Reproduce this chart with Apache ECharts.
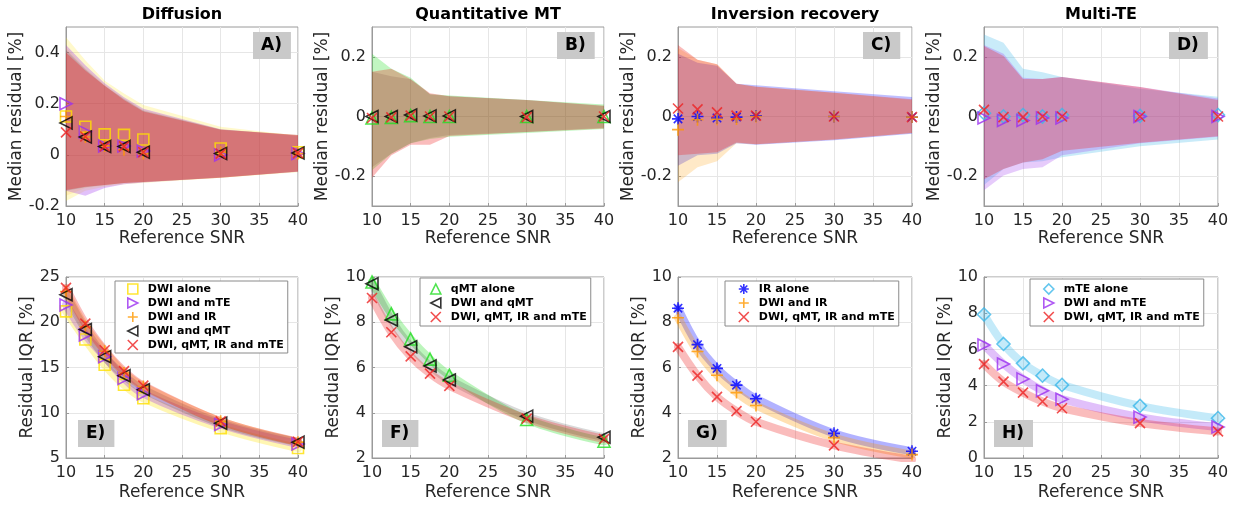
<!DOCTYPE html>
<html>
<head>
<meta charset="utf-8">
<script src="https://cdn.jsdelivr.net/npm/echarts@6/dist/echarts.min.js"></script>
<style>html,body{margin:0;padding:0;background:#fff}#c{width:1241px;height:506px}</style>
</head>
<body>
<div id="c"></div>
<script>
// ---------------- DATA ----------------
const snr = [10, 12.5, 15, 17.5, 20, 30, 40];

// Panel A (Diffusion) median residual [%]
const A_dwi_med     = [0.15, 0.11, 0.08, 0.078, 0.06, 0.025, 0.01];
const A_dwiMte_med  = [0.20, 0.09, 0.035, 0.035, 0.015, 0.0, 0.005];
const A_dwiIr_med   = [0.15, 0.07, 0.035, 0.02, 0.005, 0.01, 0.005];
const A_dwiQmt_med  = [0.125, 0.07, 0.033, 0.033, 0.01, 0.005, 0.007];
const A_all_med     = [0.088, 0.072, 0.033, 0.033, 0.01, 0.005, 0.007];
// Panel A spread (lower / upper)
const A_dwi_lo    = [-0.18, -0.14, -0.125, -0.115, -0.11, -0.09, -0.068];
const A_dwi_hi    = [0.46, 0.37, 0.29, 0.24, 0.195, 0.11, 0.075];
const A_dwiMte_lo = [-0.14, -0.16, -0.13, -0.115, -0.108, -0.088, -0.066];
const A_dwiMte_hi = [0.43, 0.35, 0.28, 0.225, 0.18, 0.1, 0.075];
const A_dwiIr_lo  = [-0.16, -0.13, -0.12, -0.11, -0.106, -0.09, -0.066];
const A_dwiIr_hi  = [0.42, 0.34, 0.275, 0.22, 0.175, 0.1, 0.078];
const A_dwiQmt_lo = [-0.14, -0.127, -0.118, -0.11, -0.106, -0.09, -0.065];
const A_dwiQmt_hi = [0.41, 0.335, 0.27, 0.218, 0.172, 0.099, 0.078];
const A_all_lo    = [-0.137, -0.125, -0.118, -0.11, -0.106, -0.09, -0.065];
const A_all_hi    = [0.40, 0.33, 0.27, 0.215, 0.17, 0.098, 0.078];

// Panel B (Quantitative MT)
const B_qmt_med    = [-0.005, -0.003, 0.003, 0.0, 0.0, 0.0, 0.0];
const B_dwiQmt_med = [0.0, 0.0, 0.005, 0.002, 0.002, 0.0, 0.0];
const B_all_med    = [-0.005, -0.003, 0.003, 0.0, 0.0, -0.002, 0.0];
const B_qmt_lo    = [-0.18, -0.125, -0.09, -0.075, -0.068, -0.055, -0.042];
const B_qmt_hi    = [0.21, 0.16, 0.13, 0.075, 0.07, 0.055, 0.04];
const B_dwiQmt_lo = [-0.17, -0.125, -0.09, -0.072, -0.062, -0.052, -0.038];
const B_dwiQmt_hi = [0.15, 0.135, 0.125, 0.075, 0.068, 0.055, 0.035];
const B_all_lo    = [-0.205, -0.13, -0.095, -0.095, -0.065, -0.052, -0.04];
const B_all_hi    = [0.15, 0.16, 0.125, 0.078, 0.068, 0.055, 0.036];

// Panel C (Inversion recovery)
const C_ir_med    = [-0.008, 0.0, -0.005, -0.002, 0.002, 0.0, -0.002];
const C_dwiIr_med = [-0.044, -0.011, -0.009, -0.008, 0.0, 0.0, -0.002];
const C_all_med   = [0.027, 0.024, 0.014, 0.003, 0.003, 0.0, -0.002];
const C_ir_lo    = [-0.165, -0.13, -0.125, -0.09, -0.095, -0.08, -0.058];
const C_ir_hi    = [0.21, 0.18, 0.17, 0.11, 0.105, 0.085, 0.065];
const C_dwiIr_lo = [-0.22, -0.17, -0.15, -0.09, -0.093, -0.077, -0.055];
const C_dwiIr_hi = [0.23, 0.19, 0.175, 0.11, 0.1, 0.08, 0.055];
const C_all_lo   = [-0.13, -0.125, -0.12, -0.087, -0.093, -0.077, -0.055];
const C_all_hi   = [0.24, 0.19, 0.175, 0.11, 0.1, 0.08, 0.058];

// Panel D (Multi-TE)
const D_mte_med    = [0.011, 0.0, 0.005, 0.0, 0.005, 0.002, 0.005];
const D_dwiMte_med = [-0.005, -0.013, -0.013, -0.005, -0.005, 0.0, 0.0];
const D_all_med    = [0.022, -0.002, -0.002, 0.0, 0.0, 0.0, 0.0];
const D_mte_lo    = [-0.23, -0.176, -0.154, -0.15, -0.137, -0.1, -0.077];
const D_mte_hi    = [0.275, 0.247, 0.16, 0.148, 0.132, 0.093, 0.066];
const D_dwiMte_lo = [-0.247, -0.198, -0.176, -0.17, -0.13, -0.09, -0.068];
const D_dwiMte_hi = [0.24, 0.21, 0.13, 0.126, 0.132, 0.099, 0.06];
const D_all_lo    = [-0.21, -0.176, -0.154, -0.143, -0.115, -0.088, -0.066];
const D_all_hi    = [0.236, 0.203, 0.126, 0.126, 0.132, 0.099, 0.055];

// Panel E-H residual IQR [%]
const E_dwi    = [21.2, 18.1, 15.3, 13.1, 11.6, 8.3, 6.1];
const E_dwiMte = [21.9, 18.6, 16.2, 13.8, 12.1, 8.7, 6.55];
const E_dwiIr  = [23.4, 19.5, 16.8, 14.4, 12.9, 9.05, 6.75];
const E_dwiQmt = [23.05, 19.2, 16.2, 14.1, 12.55, 8.85, 6.75];
const E_all    = [23.8, 19.85, 16.9, 14.6, 13.0, 9.05, 6.8];

const F_qmt    = [9.78, 8.37, 7.26, 6.37, 5.66, 3.7, 2.74];
const F_dwiQmt = [9.7, 8.1, 6.92, 6.07, 5.45, 3.85, 2.92];
const F_all    = [9.07, 7.56, 6.49, 5.73, 5.19, 3.74, 2.84];

const G_ir    = [8.62, 7.01, 5.96, 5.22, 4.62, 3.09, 2.3];
const G_dwiIr = [8.2, 6.71, 5.66, 4.89, 4.32, 2.9, 2.15];
const G_all   = [6.91, 5.64, 4.7, 4.07, 3.6, 2.56, 1.93];

const H_mte    = [7.93, 6.3, 5.23, 4.55, 4.04, 2.88, 2.2];
const H_dwiMte = [6.24, 5.19, 4.37, 3.72, 3.25, 2.26, 1.71];
const H_all    = [5.19, 4.22, 3.61, 3.12, 2.75, 1.93, 1.47];

const titles = ['Diffusion', 'Quantitative MT', 'Inversion recovery', 'Multi-TE'];
const letters = ['A)', 'B)', 'C)', 'D)', 'E)', 'F)', 'G)', 'H)'];
const yTicksA = [-0.2, 0, 0.2, 0.4];
const yTicksBCD = [-0.2, 0, 0.2];

// ---------------- STYLE ----------------
const KIND = {
  dwi:    {name: 'DWI alone',            color: '#ffe000', symbol: 'path://M0,0L10,0L10,10L0,10Z', size: 11},
  dwiMte: {name: 'DWI and mTE',          color: '#9b30f0', symbol: 'path://M0,0L10,5L0,10Z', size: 12},
  dwiIr:  {name: 'DWI and IR',           color: '#ff9900', symbol: 'path://M5,0L5,10M0,5L10,5', size: 12},
  dwiQmt: {name: 'DWI and qMT',          color: '#000000', symbol: 'path://M10,0L0,5L10,10Z', size: 12},
  all:    {name: 'DWI, qMT, IR and mTE', color: '#ee2222', symbol: 'path://M0,0L10,10M10,0L0,10', size: 10},
  qmt:    {name: 'qMT alone',            color: '#22dd22', symbol: 'path://M5,0L10,10L0,10Z', size: 12},
  ir:     {name: 'IR alone',             color: '#0000ff', symbol: 'path://M5,0L5,10M0,5L10,5M1.5,1.5L8.5,8.5M8.5,1.5L1.5,8.5', size: 12},
  mte:    {name: 'mTE alone',            color: '#3cb8ea', symbol: 'path://M5,0L10,5L5,10L0,5Z', size: 13}
};
// band opacity per panel group
const bandAlphaA = {dwi: 0.2, dwiMte: 0.3, dwiIr: 0.12, dwiQmt: 0.12, all: 0.35};
const bandAlpha = {dwiMte: 0.25, dwiIr: 0.22, dwiQmt: 0.12, all: 0.3, qmt: 0.28, ir: 0.25, mte: 0.28};

const pair = (xs, ys) => xs.map((x, i) => [x, ys[i]]);
function hexA(hex, a) {
  const n = parseInt(hex.slice(1), 16);
  return 'rgba(' + (n >> 16 & 255) + ',' + (n >> 8 & 255) + ',' + (n & 255) + ',' + a + ')';
}

const series = [];
// spread band: one polygon through the upper values and back along the lower values
function band(g, kind, lo, hi) {
  const pts = snr.map((x, i) => [x, lo[i], hi[i]]);
  const a = g === 0 ? bandAlphaA[kind] : bandAlpha[kind];
  const fill = hexA(KIND[kind].color, a);
  series.push({
    type: 'custom', name: '_band' + g + kind, xAxisIndex: g, yAxisIndex: g, silent: true, z: 1,
    data: pts, encode: {x: 0, y: [1, 2]},
    renderItem: function (params, api) {
      if (params.dataIndex !== 0) return null;
      const upper = pts.map(p => api.coord([p[0], p[2]]));
      const lower = pts.map(p => api.coord([p[0], p[1]])).reverse();
      return {type: 'polygon', shape: {points: upper.concat(lower)}, style: {fill: fill, stroke: null}};
    }
  });
}
function fitLine(g, kind, ys) {
  series.push({
    type: 'line', name: '_l' + g + kind, xAxisIndex: g, yAxisIndex: g, data: pair(snr, ys),
    symbol: 'none', smooth: 0.35, silent: true, z: 1,
    lineStyle: {color: hexA(KIND[kind].color, kind === 'dwiQmt' ? 0.15 : 0.3), width: 8, cap: 'round', join: 'round'}
  });
}
function marks(g, kind, ys) {
  const k = KIND[kind];
  series.push({
    type: 'scatter', name: k.name, xAxisIndex: g, yAxisIndex: g, data: pair(snr, ys),
    symbol: k.symbol, symbolSize: k.size, symbolKeepAspect: true, z: 3,
    itemStyle: {color: 'rgba(0,0,0,0)', borderColor: k.color, borderWidth: 1.6}
  });
}

// top row
band(0, 'dwi', A_dwi_lo, A_dwi_hi);
band(0, 'dwiMte', A_dwiMte_lo, A_dwiMte_hi);
band(0, 'dwiIr', A_dwiIr_lo, A_dwiIr_hi);
band(0, 'dwiQmt', A_dwiQmt_lo, A_dwiQmt_hi);
band(0, 'all', A_all_lo, A_all_hi);
marks(0, 'dwi', A_dwi_med); marks(0, 'dwiMte', A_dwiMte_med); marks(0, 'dwiIr', A_dwiIr_med);
marks(0, 'dwiQmt', A_dwiQmt_med); marks(0, 'all', A_all_med);

band(1, 'qmt', B_qmt_lo, B_qmt_hi);
band(1, 'dwiQmt', B_dwiQmt_lo, B_dwiQmt_hi);
band(1, 'all', B_all_lo, B_all_hi);
marks(1, 'qmt', B_qmt_med); marks(1, 'dwiQmt', B_dwiQmt_med); marks(1, 'all', B_all_med);

band(2, 'ir', C_ir_lo, C_ir_hi);
band(2, 'dwiIr', C_dwiIr_lo, C_dwiIr_hi);
band(2, 'all', C_all_lo, C_all_hi);
marks(2, 'ir', C_ir_med); marks(2, 'dwiIr', C_dwiIr_med); marks(2, 'all', C_all_med);

band(3, 'mte', D_mte_lo, D_mte_hi);
band(3, 'dwiMte', D_dwiMte_lo, D_dwiMte_hi);
band(3, 'all', D_all_lo, D_all_hi);
marks(3, 'mte', D_mte_med); marks(3, 'dwiMte', D_dwiMte_med); marks(3, 'all', D_all_med);

// bottom row
fitLine(4, 'dwi', E_dwi); fitLine(4, 'dwiMte', E_dwiMte); fitLine(4, 'dwiIr', E_dwiIr);
fitLine(4, 'dwiQmt', E_dwiQmt); fitLine(4, 'all', E_all);
marks(4, 'dwi', E_dwi); marks(4, 'dwiMte', E_dwiMte); marks(4, 'dwiIr', E_dwiIr);
marks(4, 'dwiQmt', E_dwiQmt); marks(4, 'all', E_all);

fitLine(5, 'qmt', F_qmt); fitLine(5, 'dwiQmt', F_dwiQmt); fitLine(5, 'all', F_all);
marks(5, 'qmt', F_qmt); marks(5, 'dwiQmt', F_dwiQmt); marks(5, 'all', F_all);

fitLine(6, 'ir', G_ir); fitLine(6, 'dwiIr', G_dwiIr); fitLine(6, 'all', G_all);
marks(6, 'ir', G_ir); marks(6, 'dwiIr', G_dwiIr); marks(6, 'all', G_all);

fitLine(7, 'mte', H_mte); fitLine(7, 'dwiMte', H_dwiMte); fitLine(7, 'all', H_all);
marks(7, 'mte', H_mte); marks(7, 'dwiMte', H_dwiMte); marks(7, 'all', H_all);

// ---------------- LAYOUT ----------------
const FONT = 'DejaVu Sans';
const TXT = '#262626';
const colL = [66, 372, 678, 984];
const colW = [232, 232, 234, 234];
const grids = [];
for (let r = 0; r < 2; r++) for (let c = 0; c < 4; c++) {
  grids.push({left: colL[c], width: colW[c], top: r === 0 ? 27 : 277, height: r === 0 ? 179 : 181,
    show: true, borderColor: '#9a9a9a', borderWidth: 1, backgroundColor: 'transparent'});
}
const yRanges = [
  {min: -0.2, max: 0.5, ticks: yTicksA}, {min: -0.3, max: 0.3, ticks: yTicksBCD},
  {min: -0.3, max: 0.3, ticks: yTicksBCD}, {min: -0.3, max: 0.3, ticks: yTicksBCD},
  {min: 5, max: 25, interval: 5}, {min: 2, max: 10, interval: 2},
  {min: 2, max: 10, interval: 2}, {min: 0, max: 10, interval: 2}
];
const axisCommon = {
  axisLine: {show: true, onZero: false, lineStyle: {color: '#9a9a9a'}},
  axisTick: {show: true, inside: true, length: 3, lineStyle: {color: '#9a9a9a'}},
  splitLine: {show: true, lineStyle: {color: '#e6e6e6', width: 1}},
  axisLabel: {color: TXT, fontSize: 16, fontFamily: FONT},
  nameTextStyle: {color: TXT, fontSize: 17, fontFamily: FONT}
};
const xAxes = grids.map((g, i) => Object.assign({}, axisCommon, {
  type: 'value', gridIndex: i, min: 10, max: 40, interval: 5,
  name: 'Reference SNR', nameLocation: 'middle', nameGap: i < 4 ? 22 : 26,
  axisLabel: Object.assign({}, axisCommon.axisLabel, {margin: 7})
}));
const yAxes = grids.map((g, i) => {
  const yr = yRanges[i];
  const ax = Object.assign({}, axisCommon, {
    type: 'value', gridIndex: i, min: yr.min, max: yr.max,
    name: i < 4 ? 'Median residual [%]' : 'Residual IQR [%]', nameLocation: 'middle',
    nameGap: i < 4 ? 30 : 20,
    axisLabel: Object.assign({}, axisCommon.axisLabel, {margin: 6})
  });
  if (yr.ticks) {
    ax.axisLabel.customValues = yr.ticks;
    ax.axisTick = Object.assign({}, axisCommon.axisTick, {customValues: yr.ticks});
  } else {
    ax.interval = yr.interval;
  }
  return ax;
});

const titleComps = [];
const titleCenters = colL.map((l, i) => l + colW[i] / 2);
titles.forEach((t, i) => titleComps.push({
  text: t, left: titleCenters[i], top: 7, textAlign: 'center', padding: 0,
  textStyle: {fontFamily: FONT, fontSize: 16, fontWeight: 'bold', color: '#000'}
}));
const letterPos = [[253, 32], [557, 32], [863, 32], [1169, 32], [78, 420], [382, 420], [688, 420], [994, 420]];
letters.forEach((t, i) => titleComps.push({
  text: t, left: letterPos[i][0], top: letterPos[i][1], padding: [5, 9, 5, 8],
  backgroundColor: '#c9c9c9',
  textStyle: {fontFamily: FONT, fontSize: 17, fontWeight: 'bold', color: '#000', lineHeight: 17}
}));

const legendCommon = {
  orient: 'vertical', selectedMode: false, itemWidth: 20, itemHeight: 10, itemGap: 2,
  borderColor: '#8a8a8a', borderWidth: 1, backgroundColor: '#fff', borderRadius: 0,
  itemStyle: {borderWidth: 1.6},
  textStyle: {fontFamily: FONT, fontSize: 11, fontWeight: 'bold', color: '#000', lineHeight: 12}
};
const legends = [
  Object.assign({}, legendCommon, {left: 115, top: 281, padding: [2, 4, 2, 12],
    data: ['DWI alone', 'DWI and mTE', 'DWI and IR', 'DWI and qMT', 'DWI, qMT, IR and mTE']}),
  Object.assign({}, legendCommon, {left: 420, top: 278, padding: [5, 4, 3, 10],
    data: ['qMT alone', 'DWI and qMT', 'DWI, qMT, IR and mTE']}),
  Object.assign({}, legendCommon, {left: 725, top: 281, padding: [2, 4, 3, 13],
    data: ['IR alone', 'DWI and IR', 'DWI, qMT, IR and mTE']}),
  Object.assign({}, legendCommon, {left: 1030, top: 279, padding: [4, 4, 3, 13],
    data: ['mTE alone', 'DWI and mTE', 'DWI, qMT, IR and mTE']})
];

const chart = echarts.init(document.getElementById('c'), null, {renderer: 'canvas'});
chart.setOption({
  animation: false,
  backgroundColor: '#fff',
  textStyle: {fontFamily: FONT},
  title: titleComps,
  legend: legends,
  grid: grids,
  xAxis: xAxes,
  yAxis: yAxes,
  series: series
});
</script>
</body>
</html>
